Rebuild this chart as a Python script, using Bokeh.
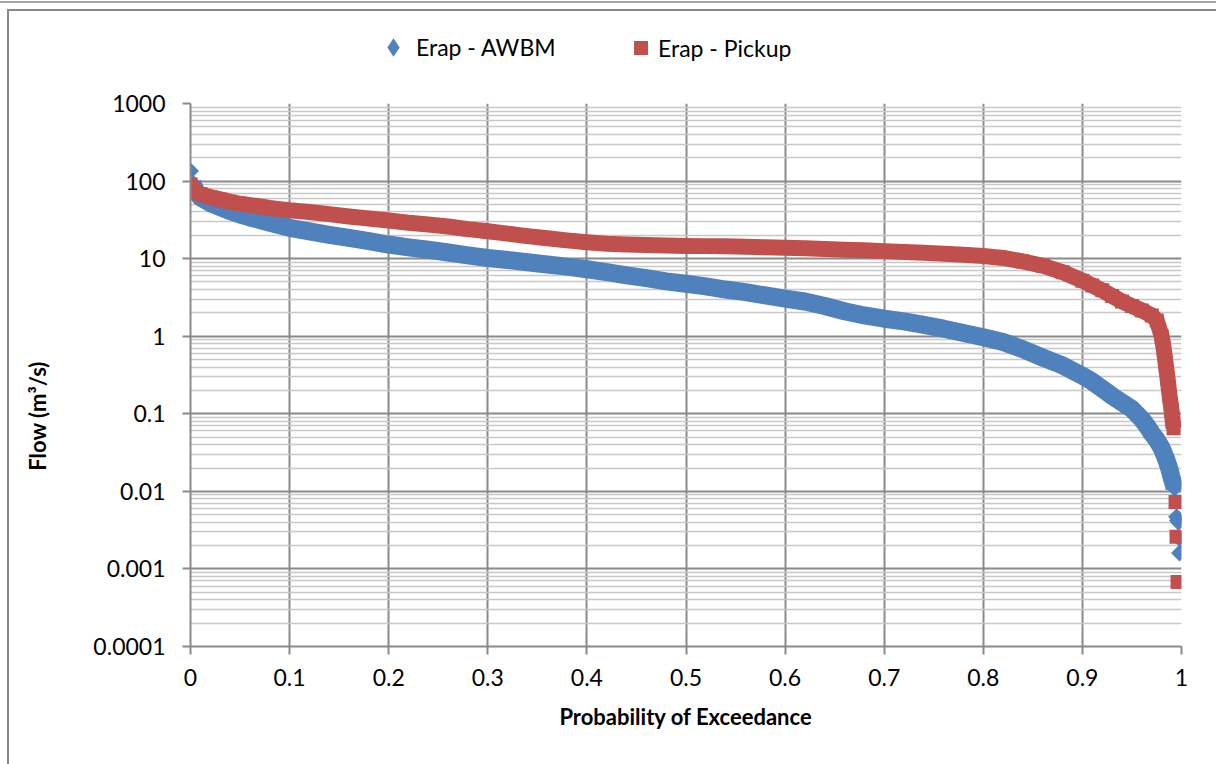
import math
from bokeh.plotting import figure
from bokeh.layouts import column, row
from bokeh.models import (FixedTicker, CustomJSTickFormatter, Legend, LegendItem,
                          Label, ColumnDataSource)
from bokeh.embed import file_html
from bokeh.resources import INLINE

# ---------------- data ----------------
awbm_prob = [0.0, 0.002, 0.005, 0.01, 0.02, 0.03, 0.04, 0.05, 0.06, 0.07, 0.08, 0.09,
             0.10, 0.12, 0.14, 0.16, 0.18, 0.20, 0.22, 0.24, 0.26, 0.28, 0.30, 0.32,
             0.34, 0.36, 0.38, 0.40, 0.42, 0.44, 0.46, 0.48, 0.50, 0.52, 0.54, 0.56,
             0.58, 0.60, 0.62, 0.64, 0.66, 0.68, 0.70, 0.72, 0.74, 0.76, 0.78, 0.80,
             0.82, 0.84, 0.86, 0.88, 0.90, 0.91, 0.92, 0.93, 0.94, 0.95, 0.96, 0.965,
             0.97, 0.975, 0.98, 0.985, 0.988, 0.990, 0.992, 0.993,
             0.995, 0.996, 0.997, 0.999, 0.998]
awbm_flow = [135, 95, 75, 62, 52, 46, 41, 37, 34, 31.5, 29, 27,
             25, 22.5, 20.3, 18.5, 16.8, 15.2, 14.0, 13.0, 12.0, 11.0, 10.2, 9.6,
             9.0, 8.4, 7.9, 7.3, 6.7, 6.1, 5.6, 5.1, 4.75, 4.4, 4.0, 3.7,
             3.35, 3.05, 2.8, 2.45, 2.1, 1.85, 1.68, 1.55, 1.4, 1.25, 1.1, 0.97,
             0.84, 0.68, 0.53, 0.42, 0.31, 0.26, 0.21, 0.17, 0.14, 0.115, 0.085, 0.07,
             0.056, 0.046, 0.036, 0.025, 0.019, 0.015, 0.0125, 0.011,
             0.0047, 0.0042, 0.0040, 0.0024, 0.0016]
awbm_band_end = 68   # points forming the continuous band (isolated tail after)

pickup_prob = [0.0, 0.002, 0.005, 0.01, 0.02, 0.03, 0.04, 0.05, 0.06, 0.07, 0.08, 0.09,
               0.10, 0.12, 0.14, 0.16, 0.18, 0.20, 0.22, 0.24, 0.26, 0.28, 0.30, 0.32,
               0.34, 0.36, 0.38, 0.40, 0.42, 0.44, 0.46, 0.48, 0.50, 0.52, 0.54, 0.56,
               0.58, 0.60, 0.62, 0.64, 0.66, 0.68, 0.70, 0.72, 0.74, 0.76, 0.78, 0.80,
               0.82, 0.84, 0.86, 0.88, 0.90, 0.91, 0.92, 0.93, 0.94, 0.95, 0.96, 0.97,
               0.975, 0.98, 0.982, 0.984, 0.986, 0.988, 0.990, 0.992,
               0.994, 0.995, 0.996]
pickup_flow = [90, 80, 73, 68, 62, 58, 54, 51, 49, 47, 45, 43.5,
               42, 40, 37.5, 35, 33, 31, 29, 27.5, 26, 24, 22.5, 21,
               19.5, 18.3, 17.2, 16.3, 15.6, 15.2, 15.0, 14.8, 14.6, 14.5, 14.4, 14.2,
               14.0, 13.8, 13.6, 13.3, 13.0, 12.8, 12.5, 12.2, 11.9, 11.6, 11.2, 10.8,
               10.2, 9.2, 8.1, 6.7, 5.2, 4.5, 3.9, 3.3, 2.8, 2.45, 2.15, 1.85,
               1.6, 1.0, 0.7, 0.45, 0.28, 0.17, 0.11, 0.065,
               0.0073, 0.0026, 0.00068]
pickup_band_end = 68

series_names = ["Erap - AWBM", "Erap - Pickup"]
x_tick_values = [0, 0.1, 0.2, 0.3, 0.4, 0.5, 0.6, 0.7, 0.8, 0.9, 1.0]
y_tick_values = [0.0001, 0.001, 0.01, 0.1, 1, 10, 100, 1000]
y_minor_values = [m * 10.0 ** e for e in range(-4, 3) for m in range(2, 10)]

BLUE = "#4F81BD"
RED = "#C0504D"
GRID = "#8a8a8a"
MINOR = "#c8c8c8"
FONT = "Lato"


def bare(fig):
    fig.outline_line_color = None
    fig.background_fill_color = "white"
    fig.border_fill_color = "white"
    fig.min_border = 0


a_src = ColumnDataSource(dict(x=awbm_prob, y=awbm_flow))
a_band = ColumnDataSource(dict(x=awbm_prob[1:awbm_band_end], y=awbm_flow[1:awbm_band_end]))
r_src = ColumnDataSource(dict(x=pickup_prob, y=pickup_flow))
r_band = ColumnDataSource(dict(x=pickup_prob[1:pickup_band_end], y=pickup_flow[1:pickup_band_end]))

# ---------------- main chart ----------------
main = figure(width=1147, height=683, x_range=(0, 1), y_range=(1e-4, 1e3),
              y_axis_type="log", output_backend="svg", toolbar_location=None,
              min_border_left=121, min_border_right=35, min_border_top=22,
              min_border_bottom=118)
main.background_fill_color = "white"
main.border_fill_color = "white"
main.outline_line_color = None

main.xaxis.ticker = FixedTicker(ticks=x_tick_values)
main.xaxis.formatter = CustomJSTickFormatter(code="return parseFloat(tick.toFixed(1)).toString();")
main.yaxis.ticker = FixedTicker(ticks=y_tick_values, minor_ticks=y_minor_values)
main.yaxis.formatter = CustomJSTickFormatter(
    code="if (tick >= 1) { return Math.round(tick).toString(); } "
         "return parseFloat(tick.toPrecision(1)).toString();")
for ax in (main.xaxis, main.yaxis):
    ax.axis_line_color = GRID
    ax.axis_line_width = 2
    ax.major_tick_line_color = GRID
    ax.major_tick_line_width = 2
    ax.major_tick_in = 0
    ax.major_tick_out = 8
    ax.minor_tick_line_color = None
    ax.major_label_text_font = FONT
    ax.major_label_text_font_size = "23px"
    ax.major_label_text_color = "#000000"
main.yaxis.major_label_standoff = 17
main.xaxis.major_label_standoff = 14
main.xaxis.axis_label = "Probability of Exceedance"
main.xaxis.axis_label_text_font = FONT
main.xaxis.axis_label_text_font_style = "bold"
main.xaxis.axis_label_text_font_size = "22px"
main.xaxis.axis_label_text_color = "#000000"
main.xaxis.axis_label_standoff = 14

main.xgrid.grid_line_color = GRID
main.xgrid.grid_line_width = 2
main.ygrid.grid_line_color = GRID
main.ygrid.grid_line_width = 2
main.ygrid.minor_grid_line_color = MINOR
main.ygrid.minor_grid_line_width = 1.5

main.line("x", "y", source=a_band, line_color=BLUE, line_width=18, line_join="round")
main.scatter("x", "y", source=a_src, marker="square", angle=math.pi / 4, size=12,
             fill_color=BLUE, line_color=None)
main.line("x", "y", source=r_band, line_color=RED, line_width=16, line_join="round")
main.scatter("x", "y", source=r_src, marker="square", size=14,
             fill_color=RED, line_color=None)

# ---------------- legend strip (series drawn outside its view; only keys show) ----------------
leg_fig = figure(width=1207, height=70, x_range=(-3, -2), y_range=(0, 1),
                 output_backend="svg", toolbar_location=None,
                 x_axis_location=None, y_axis_location=None)
bare(leg_fig)
leg_fig.grid.visible = False
blue_key = leg_fig.scatter("x", "y", source=a_src, marker="diamond", size=18,
                           fill_color=BLUE, line_color=None)
red_key = leg_fig.scatter("x", "y", source=r_src, marker="square", size=14,
                          fill_color=RED, line_color=None)
leg_blue = Legend(items=[LegendItem(label=series_names[0], renderers=[blue_key])],
                  location=(361, 11), glyph_width=46, glyph_height=46, label_standoff=0)
leg_red = Legend(items=[LegendItem(label=series_names[1], renderers=[red_key])],
                 location=(614, 16), glyph_width=35, glyph_height=35, label_standoff=0)
for lg in (leg_blue, leg_red):
    lg.border_line_color = None
    lg.background_fill_alpha = 0
    lg.padding = 0
    lg.margin = 0
    lg.spacing = 0
    lg.label_text_font = FONT
    lg.label_text_font_size = "23px"
    lg.label_text_color = "#000000"
    leg_fig.add_layout(lg, "center")

# ---------------- y-axis title strip ----------------
ttl_fig = figure(width=60, height=683, x_range=(0, 60), y_range=(0, 683),
                 output_backend="svg", toolbar_location=None,
                 x_axis_location=None, y_axis_location=None)
bare(ttl_fig)
ttl_fig.grid.visible = False
ttl_fig.add_layout(Label(x=28, y=290, text="Flow (m³/s)", angle=math.pi / 2,
                         text_align="center", text_baseline="middle", text_font=FONT,
                         text_font_style="bold", text_font_size="22px",
                         text_color="#000000"))

p = column(leg_fig, row(ttl_fig, main))
p.margin = (9, 0, 0, 7)
p.styles = {
    "border-left": "2px solid #888888",
    "border-top": "2px solid #888888",
    "box-shadow": "-1px 1px 0 7px #ffffff, 0 0 0 8px #a6a6a6",
}

open("out.html", "w").write(file_html(p, INLINE))
